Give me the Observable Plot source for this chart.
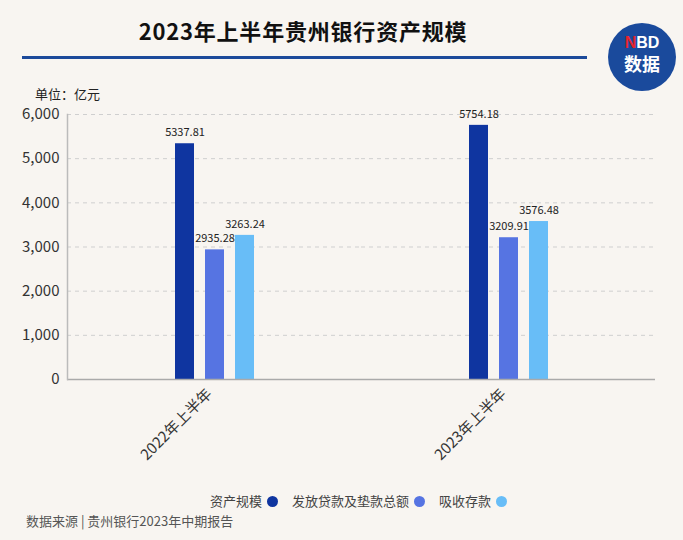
<!DOCTYPE html>
<html>
<head>
<meta charset="utf-8">
<script src="https://cdn.jsdelivr.net/npm/d3@7"></script>
<script src="https://cdn.jsdelivr.net/npm/@observablehq/plot@0.6"></script>
<style>
  html, body { margin: 0; padding: 0; background: #f8f5f1; }
  body { width: 683px; height: 540px; position: relative; overflow: hidden;
         font-family: "Noto Sans CJK SC", "Noto Sans", sans-serif; color: #222; }
  #title { position: absolute; left: 0; width: 606px; top: 14px; text-align: center;
           font-size: 22px; font-weight: bold; color: #111; letter-spacing: 0.8px; }
  #rule { position: absolute; left: 22px; width: 565px; top: 56px; height: 3px; background: #1c4a9a; }
  #logo { position: absolute; left: 608px; top: 23px; width: 68px; height: 68px; border-radius: 50%;
          background: #1a4a9c; }
  .lg { position: absolute; left: 608px; width: 68px; text-align: center; color: #fff; font-weight: bold; }
  #nbd { top: 35px; font-family: "Liberation Sans", sans-serif; font-size: 16px; line-height: 16px; }
  #nbd span { color: #e8242c; }
  #sj { top: 54px; font-size: 18px; line-height: 18px; }
  #unit { position: absolute; left: 35px; top: 84px; font-size: 13px; color: #222; }
  #chart { position: absolute; left: 0; top: 100px; }
  #legend { position: absolute; left: 17px; width: 683px; top: 491px; text-align: center; font-size: 13px; color: #444; }
  #legend .item { display: inline-block; margin: 0 7px; }
  #legend .dot { display: inline-block; width: 11px; height: 11px; border-radius: 50%; vertical-align: -1px; margin-left: 5px; }
  #caption { position: absolute; left: 26px; top: 511px; font-size: 13px; color: #555; }
</style>
</head>
<body>
<div id="title">2023年上半年贵州银行资产规模</div>
<div id="rule"></div>
<div id="logo"></div>
<div class="lg" id="nbd"><span>N</span>BD</div>
<div class="lg" id="sj">数据</div>
<div id="unit">单位：亿元</div>
<div id="chart"></div>
<div id="legend"></div>
<div id="caption">数据来源 | 贵州银行2023年中期报告</div>
<script>
const periods = ["2022年上半年", "2023年上半年"];
const series = ["资产规模", "发放贷款及垫款总额", "吸收存款"];
const colors = ["#0f35a0", "#5674e2", "#68bdf7"];
const assets = [5337.81, 5754.18];
const loans = [2935.28, 3209.91];
const deposits = [3263.24, 3576.48];
const yTicks = [0, 1000, 2000, 3000, 4000, 5000, 6000];

const valuesBySeries = [assets, loans, deposits];
const data = [];
periods.forEach((p, i) => {
  series.forEach((s, j) => data.push({period: p, series: s, value: valuesBySeries[j][i]}));
});

const chart = Plot.plot({
  width: 683,
  height: 380,
  marginTop: 14,
  marginBottom: 101,
  marginLeft: 67,
  marginRight: 28,
  style: {background: "transparent", fontFamily: "'Noto Sans CJK SC', sans-serif"},
  fx: {domain: periods, padding: 0, label: null},
  x: {domain: series, paddingInner: 0.3667, paddingOuter: 3.583, align: 0.5, axis: null},
  y: {domain: [0, 6000], label: null},
  color: {domain: series, range: colors},
  marks: [
    Plot.gridY(yTicks, {stroke: "#cfcfcf", strokeOpacity: 1, strokeDasharray: "4,4"}),
    Plot.axisY(yTicks, {tickSize: 0, tickPadding: 8, fontSize: 15, fill: "#333",
      tickFormat: d3.format(","), label: null}),
    Plot.axisFx({anchor: "bottom", tickSize: 0, tickPadding: 12, tickRotate: -45,
      fontSize: 15, fill: "#333", label: null, dx: -5}),
    Plot.barY(data, {fx: "period", x: "series", y: "value", fill: "series"}),
    Plot.text(data, {fx: "period", x: "series", y: "value", text: d => d.value.toFixed(2),
      dy: -11, fontSize: 11, fill: "#222"}),
    Plot.ruleY([0], {stroke: "#aaa", strokeWidth: 1.5}),
    Plot.frame({anchor: "left", facetAnchor: "left", stroke: "#bbb", strokeWidth: 1.5})
  ]
});
document.getElementById("chart").appendChild(chart);

const legend = document.getElementById("legend");
series.forEach((s, j) => {
  const item = document.createElement("span");
  item.className = "item";
  item.innerHTML = `${s}<span class="dot" style="background:${colors[j]}"></span>`;
  legend.appendChild(item);
});
</script>
</body>
</html>
